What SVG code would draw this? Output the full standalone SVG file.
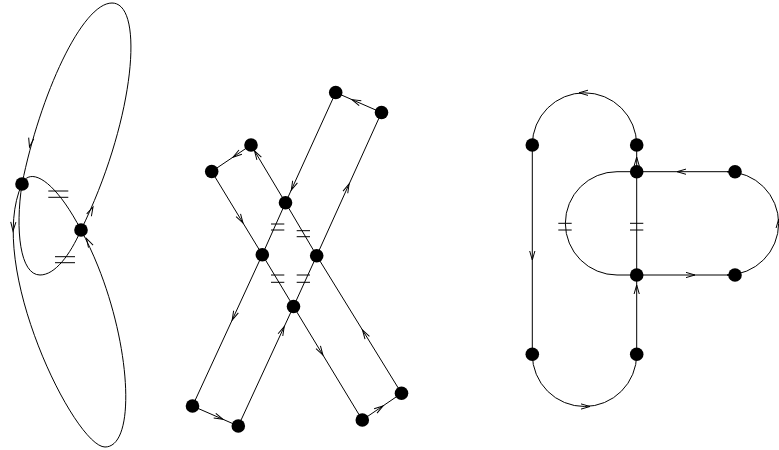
<svg xmlns="http://www.w3.org/2000/svg" xmlns:xlink="http://www.w3.org/1999/xlink" width="779" height="450" viewBox="0 0 779 450">
<style>
.e{fill:none;stroke:#000;stroke-width:1}
.m{fill:none;stroke:#000;stroke-width:1}
.n{fill:#000;stroke:none}
.a{fill:none;stroke:#000;stroke-width:1}
</style>
<defs>
<path id="ah" class="a" d="M-9,-2.6 L0,0 L-9,2.6"/>
</defs>
<rect width="779" height="450" fill="#fff"/>
<g id="connectors">
<!-- left figure -->
<path class="e" d="M22,184 C40,95 82,3 112,3 C145,3 135,120 81,230"/>
<path class="e" d="M22,184 C-15,265 75,447 105,447 C140,447 130,320 81,230"/>
<path class="e" d="M22,184 C30,166 55,180 81,230"/>
<path class="e" d="M22,184 C15,230 20,275 40,275 C55,275 70,255 81,230"/>
<!-- middle figure -->
<path class="e" d="M211.7,171.5 L262.3,254.7"/>
<path class="e" d="M251,145 L211.7,171.5"/>
<path class="e" d="M285.5,202.7 L251,145"/>
<path class="e" d="M335.7,92.5 L285.5,202.7"/>
<path class="e" d="M381.5,112.5 L335.7,92.5"/>
<path class="e" d="M316.7,255.7 L381.5,112.5"/>
<path class="e" d="M285.5,202.7 L262.3,254.7"/>
<path class="e" d="M285.5,202.7 L316.7,255.7"/>
<path class="e" d="M262.3,254.7 L293.5,306.5"/>
<path class="e" d="M316.7,255.7 L293.5,306.5"/>
<path class="e" d="M262.3,254.7 L192.5,406"/>
<path class="e" d="M192.5,406 L238.3,426"/>
<path class="e" d="M238.3,426 L293.5,306.5"/>
<path class="e" d="M293.5,306.5 L362.3,420"/>
<path class="e" d="M362.3,420 L401.5,393.3"/>
<path class="e" d="M401.5,393.3 L316.7,255.7"/>
<!-- right figure -->
<path class="e" d="M532.3,145 A52.2,52.2 0 0 1 636.7,145"/>
<path class="e" d="M532.3,145 L532.3,354.3"/>
<path class="e" d="M532.3,354.3 A52.2,52.2 0 0 0 636.7,354.3"/>
<path class="e" d="M636.7,354.3 L636.7,145"/>
<path class="e" d="M735,171.7 L636.7,171.7"/>
<path class="e" d="M636.7,275 L735,275"/>
<path class="e" d="M636.7,171.7 L617,171.7 A51.65,51.65 0 0 0 617,275 L636.7,275"/>
<path class="e" d="M735,171.7 L727,171.7 A51.65,51.65 0 0 1 727,275 L735,275"/>
<!-- arrowheads -->
<use xlink:href="#ah" href="#ah" transform="translate(29.5,147) rotate(101)"/>
<use xlink:href="#ah" href="#ah" transform="translate(93,207) rotate(-64)"/>
<use xlink:href="#ah" href="#ah" transform="translate(13,231) rotate(92)"/>
<use xlink:href="#ah" href="#ah" transform="translate(86.5,238.5) rotate(-118.6)"/>
<use xlink:href="#ah" href="#ah" transform="translate(243,223) rotate(58.7)"/>
<use xlink:href="#ah" href="#ah" transform="translate(233,157.2) rotate(146)"/>
<use xlink:href="#ah" href="#ah" transform="translate(254.5,150.8) rotate(-120.9)"/>
<use xlink:href="#ah" href="#ah" transform="translate(291.3,190) rotate(114.5)"/>
<use xlink:href="#ah" href="#ah" transform="translate(352,99.6) rotate(-156.4)"/>
<use xlink:href="#ah" href="#ah" transform="translate(349.1,184) rotate(-65.7)"/>
<use xlink:href="#ah" href="#ah" transform="translate(232.2,320) rotate(114.8)"/>
<use xlink:href="#ah" href="#ah" transform="translate(223,419.3) rotate(23.6)"/>
<use xlink:href="#ah" href="#ah" transform="translate(284.2,326.7) rotate(-65.2)"/>
<use xlink:href="#ah" href="#ah" transform="translate(322.9,355) rotate(58.8)"/>
<use xlink:href="#ah" href="#ah" transform="translate(383,405.9) rotate(-34.3)"/>
<use xlink:href="#ah" href="#ah" transform="translate(362.5,330) rotate(-121.6)"/>
<use xlink:href="#ah" href="#ah" transform="translate(579,92.8) rotate(180)"/>
<use xlink:href="#ah" href="#ah" transform="translate(532.3,260) rotate(90)"/>
<use xlink:href="#ah" href="#ah" transform="translate(590,406.5) rotate(0)"/>
<use xlink:href="#ah" href="#ah" transform="translate(636.7,285) rotate(-90)"/>
<use xlink:href="#ah" href="#ah" transform="translate(636.7,157) rotate(-90)"/>
<use xlink:href="#ah" href="#ah" transform="translate(677,171.7) rotate(180)"/>
<use xlink:href="#ah" href="#ah" transform="translate(695,275) rotate(0)"/>
<use xlink:href="#ah" href="#ah" transform="translate(778.7,219) rotate(-90)"/>
</g>
<g id="marks">
<path class="m" d="M48.3,191 H68.3 M48.3,197.3 H68.3"/>
<path class="m" d="M55,256.7 H75 M55,262.7 H75"/>
<path class="m" d="M271,224 H284.3 M271,230 H284.3"/>
<path class="m" d="M296.7,230.7 H310 M296.7,236.7 H310"/>
<path class="m" d="M271,275 H284.3 M271,282.3 H284.3"/>
<path class="m" d="M296.7,275 H310 M296.7,282.3 H310"/>
<path class="m" d="M558.3,223.3 H571.7 M558.3,230 H571.7"/>
<path class="m" d="M630,223.3 H643.3 M630,230 H643.3"/>
</g>
<g id="n1"><circle class="n" cx="22" cy="184" r="6.8"/></g>
<g id="n2"><circle class="n" cx="81" cy="230" r="6.8"/></g>
<g id="m1"><circle class="n" cx="211.7" cy="171.5" r="6.8"/></g>
<g id="m2"><circle class="n" cx="251" cy="145" r="6.8"/></g>
<g id="m3"><circle class="n" cx="335.7" cy="92.5" r="6.8"/></g>
<g id="m4"><circle class="n" cx="381.5" cy="112.5" r="6.8"/></g>
<g id="m5"><circle class="n" cx="285.5" cy="202.7" r="6.8"/></g>
<g id="m6"><circle class="n" cx="262.3" cy="254.7" r="6.8"/></g>
<g id="m7"><circle class="n" cx="316.7" cy="255.7" r="6.8"/></g>
<g id="m8"><circle class="n" cx="293.5" cy="306.5" r="6.8"/></g>
<g id="m9"><circle class="n" cx="192.5" cy="406" r="6.8"/></g>
<g id="m10"><circle class="n" cx="238.3" cy="426" r="6.8"/></g>
<g id="m11"><circle class="n" cx="362.3" cy="420" r="6.8"/></g>
<g id="m12"><circle class="n" cx="401.5" cy="393.3" r="6.8"/></g>
<g id="r1"><circle class="n" cx="532.3" cy="145" r="6.8"/></g>
<g id="r2"><circle class="n" cx="636.7" cy="145" r="6.8"/></g>
<g id="r3"><circle class="n" cx="636.7" cy="171.7" r="6.8"/></g>
<g id="r4"><circle class="n" cx="735" cy="171.7" r="6.8"/></g>
<g id="r5"><circle class="n" cx="636.7" cy="275" r="6.8"/></g>
<g id="r6"><circle class="n" cx="735" cy="275" r="6.8"/></g>
<g id="r7"><circle class="n" cx="532.3" cy="354.3" r="6.8"/></g>
<g id="r8"><circle class="n" cx="636.7" cy="354.3" r="6.8"/></g>
</svg>
